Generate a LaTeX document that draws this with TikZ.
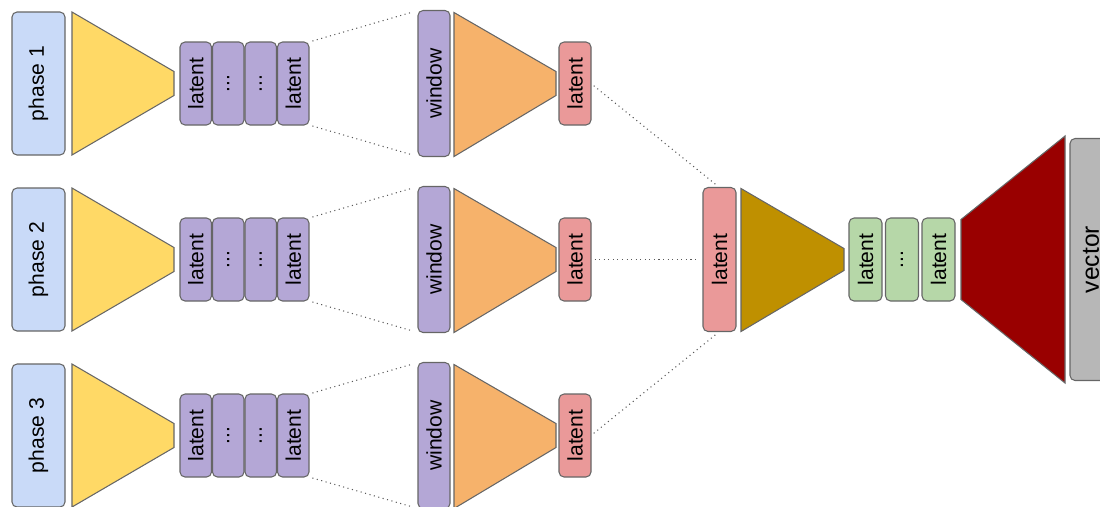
\documentclass[tikz,border=0pt]{standalone}
\usepackage{fontspec}
\setmainfont{Liberation Sans}
\usepackage{graphicx}
\usetikzlibrary{positioning}

\definecolor{edgec}{HTML}{666666}
\definecolor{dotc}{HTML}{595959}
\definecolor{phasec}{HTML}{C9DAF8}
\definecolor{yelc}{HTML}{FFD966}
\definecolor{purc}{HTML}{B4A7D6}
\definecolor{orac}{HTML}{F6B26B}
\definecolor{pinkc}{HTML}{EA9999}
\definecolor{ochrec}{HTML}{BF9000}
\definecolor{grnc}{HTML}{B6D7A8}
\definecolor{bloodc}{HTML}{990000}
\definecolor{grayc}{HTML}{B7B7B7}

\newcommand{\vtxt}[1]{\rotatebox{90}{#1}}

\begin{document}
\begin{tikzpicture}[node distance=0.66cm,
                    every node/.append style={align=center, font=\fontsize{12}{14}\selectfont},
                    cell/.style={draw=edgec, line width=0.6pt, rounded corners=0.1cm, inner sep=0pt, outer sep=0pt},
                    phasebox/.style={cell, fill=phasec, minimum width=1.06cm, minimum height=2.86cm},
                    latbox/.style={cell, fill=purc, minimum width=0.63cm, minimum height=1.66cm},
                    winbox/.style={cell, fill=purc, minimum width=0.64cm, minimum height=2.92cm},
                    redbox/.style={cell, fill=pinkc, minimum width=0.64cm, minimum height=1.66cm},
                    bigbox/.style={cell, fill=pinkc, minimum width=0.66cm, minimum height=2.88cm},
                    grnbox/.style={cell, fill=grnc, minimum width=0.66cm, minimum height=1.66cm},
                    vecbox/.style={cell, fill=grayc, minimum width=0.84cm, minimum height=4.84cm,
                                   font=\fontsize{14}{16}\selectfont},
                    funnel/.style={draw=edgec, line width=0.6pt},
                    link/.style={draw=dotc, dotted, line width=0.6pt, shorten <=2pt, shorten >=3pt}]

   \useasboundingbox (0,0) rectangle (22,-10.12);
   \clip (0,0) rectangle (22,-10.12);

   % phases
   \node [phasebox] (P1) at (0.77,-1.67) {\vtxt{phase 1}};
   \node [phasebox, below=of P1] (P2) {\vtxt{phase 2}};
   \node [phasebox, below=of P2] (P3) {\vtxt{phase 3}};

   % row 1
   \node [latbox, right=2.3cm of P1] (L1a) {\vtxt{latent}};
   \node [latbox, right=0.02cm of L1a] (L1b) {\vtxt{...}};
   \node [latbox, right=0.02cm of L1b] (L1c) {\vtxt{...}};
   \node [latbox, right=0.02cm of L1c] (L1d) {\vtxt{latent}};
   \node [winbox, right=2.18cm of L1d] (W1) {\vtxt{window}};
   \node [redbox, right=2.18cm of W1] (R1) {\vtxt{latent}};

   % row 2
   \node [latbox, right=2.3cm of P2] (L2a) {\vtxt{latent}};
   \node [latbox, right=0.02cm of L2a] (L2b) {\vtxt{...}};
   \node [latbox, right=0.02cm of L2b] (L2c) {\vtxt{...}};
   \node [latbox, right=0.02cm of L2c] (L2d) {\vtxt{latent}};
   \node [winbox, right=2.18cm of L2d] (W2) {\vtxt{window}};
   \node [redbox, right=2.18cm of W2] (R2) {\vtxt{latent}};

   % row 3
   \node [latbox, right=2.3cm of P3] (L3a) {\vtxt{latent}};
   \node [latbox, right=0.02cm of L3a] (L3b) {\vtxt{...}};
   \node [latbox, right=0.02cm of L3b] (L3c) {\vtxt{...}};
   \node [latbox, right=0.02cm of L3c] (L3d) {\vtxt{latent}};
   \node [winbox, right=2.18cm of L3d] (W3) {\vtxt{window}};
   \node [redbox, right=2.18cm of W3] (R3) {\vtxt{latent}};

   % merge
   \node [bigbox, right=2.24cm of R2] (B) {\vtxt{latent}};
   \node [grnbox, right=2.26cm of B] (G1) {\vtxt{latent}};
   \node [grnbox, right=0.07cm of G1] (G2) {\vtxt{...}};
   \node [grnbox, right=0.07cm of G2] (G3) {\vtxt{latent}};
   \node [vecbox, right=2.3cm of G3] (V) {\vtxt{vector}};

   % encoders
   \draw[funnel, fill=yelc] ([xshift=0.14cm]P1.north east) -- ([xshift=-0.12cm,yshift=0.24cm]L1a.west)
        -- ([xshift=-0.12cm,yshift=-0.24cm]L1a.west) -- ([xshift=0.14cm]P1.south east) -- cycle;
   \draw[funnel, fill=yelc] ([xshift=0.14cm]P2.north east) -- ([xshift=-0.12cm,yshift=0.24cm]L2a.west)
        -- ([xshift=-0.12cm,yshift=-0.24cm]L2a.west) -- ([xshift=0.14cm]P2.south east) -- cycle;
   \draw[funnel, fill=yelc] ([xshift=0.14cm]P3.north east) -- ([xshift=-0.12cm,yshift=0.24cm]L3a.west)
        -- ([xshift=-0.12cm,yshift=-0.24cm]L3a.west) -- ([xshift=0.14cm]P3.south east) -- cycle;

   \draw[funnel, fill=orac] ([xshift=0.08cm,yshift=-0.04cm]W1.north east) -- ([xshift=-0.06cm,yshift=0.24cm]R1.west)
        -- ([xshift=-0.06cm,yshift=-0.24cm]R1.west) -- ([xshift=0.08cm]W1.south east) -- cycle;
   \draw[funnel, fill=orac] ([xshift=0.08cm,yshift=-0.04cm]W2.north east) -- ([xshift=-0.06cm,yshift=0.24cm]R2.west)
        -- ([xshift=-0.06cm,yshift=-0.24cm]R2.west) -- ([xshift=0.08cm]W2.south east) -- cycle;
   \draw[funnel, fill=orac] ([xshift=0.08cm,yshift=-0.04cm]W3.north east) -- ([xshift=-0.06cm,yshift=0.24cm]R3.west)
        -- ([xshift=-0.06cm,yshift=-0.24cm]R3.west) -- ([xshift=0.08cm]W3.south east) -- cycle;

   \draw[funnel, fill=ochrec] ([xshift=0.1cm,yshift=-0.02cm]B.north east) -- ([xshift=-0.1cm,yshift=0.22cm]G1.west)
        -- ([xshift=-0.1cm,yshift=-0.22cm]G1.west) -- ([xshift=0.1cm]B.south east) -- cycle;

   % decoder
   \draw[funnel, fill=bloodc] ([xshift=0.12cm,yshift=0.8cm]G3.east) -- ([xshift=-0.1cm,yshift=2.47cm]V.west)
        -- ([xshift=-0.1cm,yshift=-2.47cm]V.west) -- ([xshift=0.12cm,yshift=-0.8cm]G3.east) -- cycle;

   % dotted links
   \path[link] (L1d.north east) -- (W1.north west);
   \path[link] (L1d.south east) -- (W1.south west);
   \path[link] (L2d.north east) -- (W2.north west);
   \path[link] (L2d.south east) -- (W2.south west);
   \path[link] (L3d.north east) -- (W3.north west);
   \path[link] (L3d.south east) -- (W3.south west);
   \path[link] (R1.east) -- (B.north);
   \path[link] (R2.east) -- (B.west);
   \path[link] (R3.east) -- (B.south);
\end{tikzpicture}
\end{document}
